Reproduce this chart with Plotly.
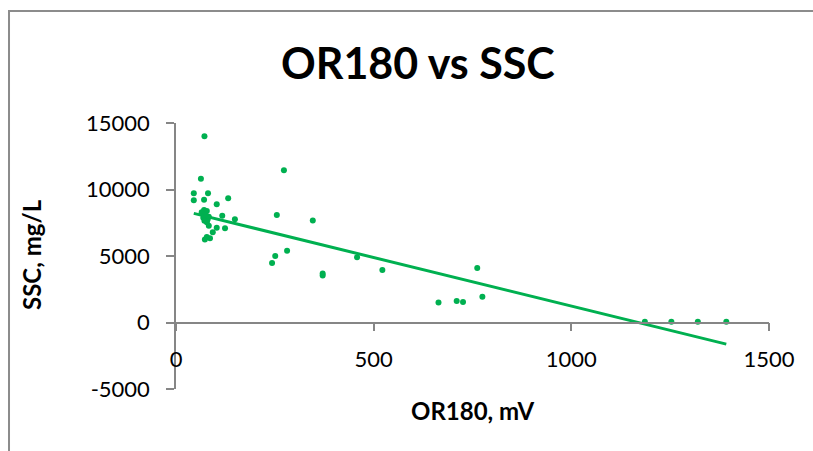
import numpy as np
import plotly.graph_objects as go

# OR180 (mV) and SSC (mg/L)
or180 = [72, 273, 63, 45, 81, 45, 71, 132, 103, 71, 65, 78, 69, 83, 78, 83, 117, 149,
         103, 124, 93, 73, 86, 78, 74, 80, 72,
         255, 346, 251, 243, 281, 371, 371, 458, 522, 762, 664, 710, 726, 775,
         1186, 1253, 1320, 1392]
ssc = [14000, 11450, 10800, 9720, 9720, 9190, 9220, 9345, 8890, 8460, 8290, 8390, 7880, 7960,
       7540, 7280, 8030, 7760, 7130, 7080, 6780, 6250, 6330, 6430, 8150, 7750, 7650,
       8090, 7660, 5000, 4470, 5400, 3690, 3540, 4900, 3940, 4090, 1510, 1610, 1550, 1930,
       50, 50, 50, 50]

# linear trendline coefficients (SSC = slope * OR180 + intercept)
trend_slope = -7.3
trend_intercept = 8535

x_ticks = [0, 500, 1000, 1500]
y_ticks = [-5000, 0, 5000, 10000, 15000]

GREEN = "#00B050"
AXIS = "#868686"
BORDER = "#8c8c8c"
FONT = "Lato"

tx = np.array([min(or180), max(or180)])
ty = trend_slope * tx + trend_intercept

fig = go.Figure()
fig.add_trace(go.Scatter(x=or180, y=ssc, mode="markers",
                         marker=dict(color=GREEN, size=6), showlegend=False))
fig.add_trace(go.Scatter(x=tx, y=ty, mode="lines",
                         line=dict(color=GREEN, width=3), showlegend=False))

fig.update_layout(
    width=813, height=451,
    margin=dict(l=176, r=44, t=123, b=62),
    plot_bgcolor="white", paper_bgcolor="white",
    font=dict(family=FONT, color="black"),
    xaxis=dict(range=[0, 1500], tickvals=x_ticks, ticktext=[str(v) for v in x_ticks],
               anchor="free", position=0.25, showline=True, linecolor=AXIS, linewidth=1.5,
               ticks="outside", ticklen=8, tickcolor=AXIS, tickwidth=1.5,
               showgrid=False, zeroline=False, ticklabelstandoff=9,
               tickfont=dict(size=22, family=FONT, color="black")),
    yaxis=dict(range=[-5000, 15000], tickvals=y_ticks, ticktext=[str(v) for v in y_ticks],
               showline=True, linecolor=AXIS, linewidth=1.5,
               ticks="outside", ticklen=8, tickcolor=AXIS, tickwidth=1.5,
               showgrid=False, zeroline=False, ticklabelstandoff=12,
               tickfont=dict(size=22, family=FONT, color="black")),
    shapes=[
        dict(type="line", xref="paper", yref="paper", x0=-0.2816, x1=1.5, y0=1.4210, y1=1.4210,
             line=dict(color=BORDER, width=2), layer="below"),
        dict(type="line", xref="paper", yref="paper", x0=-0.2816, x1=-0.2816, y0=-0.6, y1=1.4248,
             line=dict(color=BORDER, width=2), layer="below"),
    ],
    annotations=[
        dict(text="<b>OR180 vs SSC</b>", xref="paper", yref="paper", x=0.408, y=1.2256,
             showarrow=False, xanchor="center", yanchor="middle",
             font=dict(size=43, family=FONT, color="black")),
        dict(text="<b>OR180, mV</b>", xref="paper", yref="paper", x=0.5, y=-0.0827,
             showarrow=False, xanchor="center", yanchor="middle",
             font=dict(size=24, family=FONT, color="black")),
        dict(text="<b>SSC, mg/L</b>", xref="paper", yref="paper", x=-0.2428, y=0.504,
             showarrow=False, xanchor="center", yanchor="middle", textangle=-90,
             font=dict(size=24, family=FONT, color="black")),
    ],
)

# remove the default page margin so the figure fills the window exactly
fig.write_html("out.html", config={"displayModeBar": False},
               post_script="document.body.style.margin='0';document.body.style.overflow='hidden';")
